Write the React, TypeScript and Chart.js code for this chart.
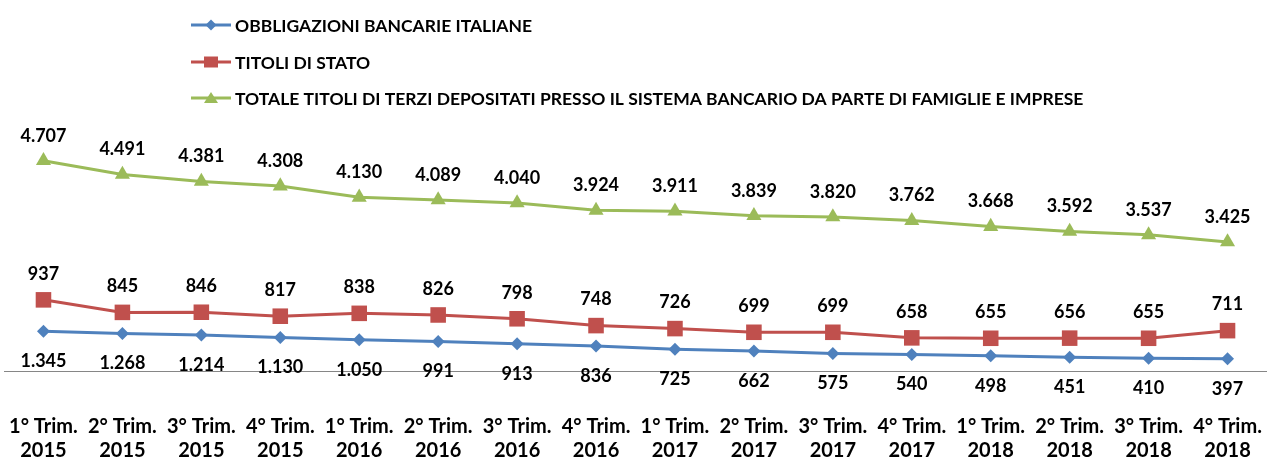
import React, { useEffect, useRef } from 'react';
import { Chart, registerables } from 'chart.js';

Chart.register(...registerables);

const categories: string[][] = [
  ['1° Trim.', '2015'], ['2° Trim.', '2015'], ['3° Trim.', '2015'], ['4° Trim.', '2015'],
  ['1° Trim.', '2016'], ['2° Trim.', '2016'], ['3° Trim.', '2016'], ['4° Trim.', '2016'],
  ['1° Trim.', '2017'], ['2° Trim.', '2017'], ['3° Trim.', '2017'], ['4° Trim.', '2017'],
  ['1° Trim.', '2018'], ['2° Trim.', '2018'], ['3° Trim.', '2018'], ['4° Trim.', '2018'],
];

const obbligazioniBancarie = [1345, 1268, 1214, 1130, 1050, 991, 913, 836, 725, 662, 575, 540, 498, 451, 410, 397];
const titoliDiStato = [937, 845, 846, 817, 838, 826, 798, 748, 726, 699, 699, 658, 655, 656, 655, 711];
const totaleTitoliTerzi = [4707, 4491, 4381, 4308, 4130, 4089, 4040, 3924, 3911, 3839, 3820, 3762, 3668, 3592, 3537, 3425];

const seriesNames = [
  'OBBLIGAZIONI BANCARIE ITALIANE',
  'TITOLI DI STATO',
  'TOTALE TITOLI DI TERZI DEPOSITATI PRESSO IL SISTEMA BANCARIO DA PARTE DI FAMIGLIE E IMPRESE',
];

const BLUE = '#4F81BD';
const RED = '#C0504D';
const GREEN = '#9BBB59';
const FONT = 'Lato, "Open Sans", sans-serif';

const fmt = (v: number) => String(v).replace(/\B(?=(\d{3})+(?!\d))/g, '.');

const valueLabels = {
  id: 'valueLabels',
  afterDatasetsDraw(chart: any) {
    const ctx = chart.ctx;
    chart.data.datasets.forEach((ds: any, i: number) => {
      const meta = chart.getDatasetMeta(i);
      meta.data.forEach((pt: any, j: number) => {
        ctx.save();
        ctx.font = `bold 18px ${FONT}`;
        ctx.fillStyle = '#000';
        ctx.textAlign = 'center';
        ctx.textBaseline = 'middle';
        ctx.fillText(fmt(ds.data[j]), pt.x, pt.y + ds.labelOffset);
        ctx.restore();
      });
    });
  },
};

const customLegend = {
  id: 'customLegend',
  afterDraw(chart: any) {
    const ctx = chart.ctx;
    const rows = [25, 62, 98];
    chart.data.datasets.forEach((ds: any, i: number) => {
      const y = rows[i];
      ctx.save();
      ctx.strokeStyle = ds.borderColor;
      ctx.lineWidth = 3;
      ctx.beginPath();
      ctx.moveTo(191, y);
      ctx.lineTo(231, y);
      ctx.stroke();
      ctx.fillStyle = ds.borderColor;
      ctx.beginPath();
      if (ds.pointStyle === 'rectRot') {
        const r = 5.5;
        ctx.moveTo(211, y - r); ctx.lineTo(211 + r, y); ctx.lineTo(211, y + r); ctx.lineTo(211 - r, y);
      } else if (ds.pointStyle === 'rect') {
        ctx.rect(204, y - 5.5, 14, 11);
      } else {
        ctx.moveTo(211, y - 6); ctx.lineTo(218, y + 5); ctx.lineTo(204, y + 5);
      }
      ctx.closePath();
      ctx.fill();
      ctx.fillStyle = '#000';
      ctx.font = `bold 17.5px ${FONT}`;
      ctx.textAlign = 'left';
      ctx.textBaseline = 'middle';
      ctx.fillText(ds.label, 235, y + 1);
      ctx.restore();
    });
  },
};

export default function App() {
  const ref = useRef<HTMLCanvasElement | null>(null);

  useEffect(() => {
    if (!ref.current) return;
    const chart = new Chart(ref.current, {
      type: 'line',
      data: {
        labels: categories,
        datasets: [
          {
            label: seriesNames[0],
            data: obbligazioniBancarie,
            borderColor: BLUE,
            backgroundColor: BLUE,
            pointStyle: 'rectRot',
            pointRadius: 6.5,
            yAxisID: 'yBlue',
            labelOffset: 30,
          } as any,
          {
            label: seriesNames[1],
            data: titoliDiStato,
            borderColor: RED,
            backgroundColor: RED,
            pointStyle: 'rect',
            pointRadius: 11,
            yAxisID: 'yRed',
            labelOffset: -26,
          } as any,
          {
            label: seriesNames[2],
            data: totaleTitoliTerzi,
            borderColor: GREEN,
            backgroundColor: GREEN,
            pointStyle: 'triangle',
            pointRadius: 8.7,
            yAxisID: 'yGreen',
            labelOffset: -25,
          } as any,
        ],
      },
      options: {
        animation: false,
        responsive: true,
        maintainAspectRatio: false,
        layout: { autoPadding: false, padding: { top: 130, left: 4, right: -2, bottom: -8 } },
        elements: {
          line: { borderWidth: 3, tension: 0 },
          point: { borderWidth: 0, hoverRadius: 7 },
        },
        plugins: {
          legend: { display: false },
          tooltip: { enabled: false },
        },
        scales: {
          x: {
            type: 'category',
            offset: true,
            grid: { display: true, drawOnChartArea: false, drawTicks: true, tickLength: 41, color: 'rgba(0,0,0,0)' },
            border: { display: true, color: '#868686', width: 1 },
            ticks: {
              color: '#000',
              font: { family: FONT, size: 20, weight: 'bold', lineHeight: 1.225 },
              padding: 2,
              maxRotation: 0,
              autoSkip: false,
            },
            afterFit: (scale: any) => {
              scale.paddingLeft = 0;
              scale.paddingRight = 0;
            },
          },
          yBlue: { type: 'linear', display: false, min: -26.5, max: 8289.5 },
          yRed: { type: 'linear', display: false, min: 414.8, max: 2183.6 },
          yGreen: { type: 'linear', display: false, min: 1387.5, max: 5192.7 },
        },
      } as any,
      plugins: [valueLabels, customLegend],
    });
    return () => chart.destroy();
  }, []);

  return (
    <div style={{ position: 'fixed', left: 0, top: 0, width: 1267, height: 457, background: '#fff' }}>
      <canvas ref={ref} />
    </div>
  );
}
